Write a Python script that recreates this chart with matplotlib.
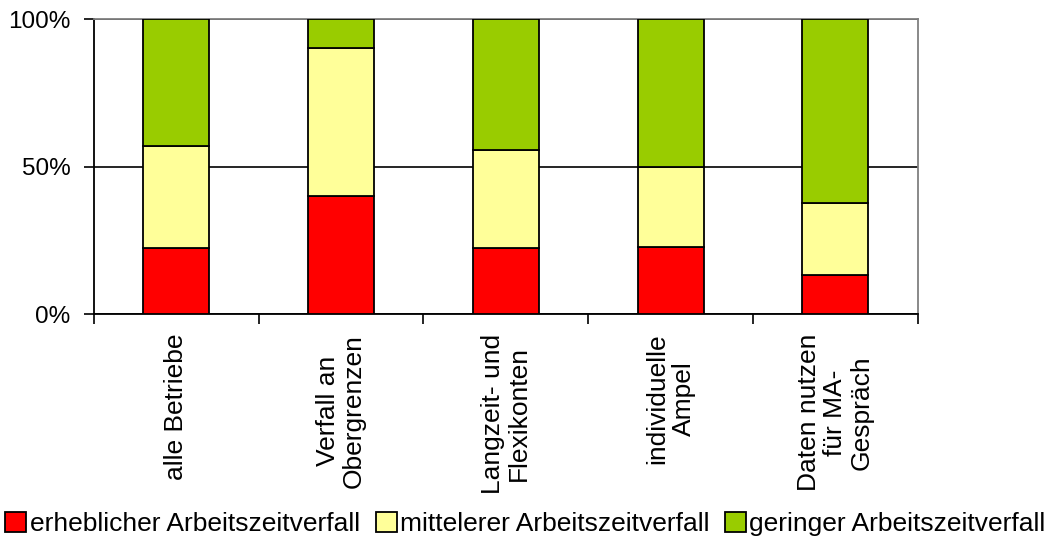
import matplotlib
matplotlib.use("Agg")
import matplotlib.pyplot as plt
import numpy as np

# Werte (Anteile in %)
kategorien = ["alle Betriebe", "Verfall an\nObergrenzen", "Langzeit- und\nFlexikonten",
              "individuelle\nAmpel", "Daten nutzen\nfür MA-\nGespräch"]
erheblich = [22.4, 40.1, 22.4, 22.9, 13.3]
mittel = [34.7, 50.2, 33.3, 27.1, 24.4]
gering = [42.9, 9.7, 44.3, 50.0, 62.3]
serien = ["erheblicher Arbeitszeitverfall", "mittelerer Arbeitszeitverfall",
          "geringer Arbeitszeitverfall"]
farben = ["#FF0000", "#FFFF99", "#99CC00"]

plt.rcParams['font.family'] = ['Liberation Sans', 'DejaVu Sans']

fig = plt.figure(figsize=(10.51, 5.49), dpi=100)
ax = fig.add_axes([94 / 1051, 1 - 314.3 / 549, (917.7 - 94) / 1051, (314.3 - 19.3) / 549])

x = np.arange(len(kategorien))
unten = np.zeros(len(kategorien))
for werte, name, farbe in zip([erheblich, mittel, gering], serien, farben):
    ax.bar(x, werte, width=0.4, bottom=unten, color=farbe, edgecolor="black",
           linewidth=1.3, label=name, zorder=3)
    unten += np.array(werte)

ax.set_xlim(-0.5, len(kategorien) - 0.5)
ax.set_ylim(0, 100)

# y-Achse
ax.set_yticks([0, 50, 100])
ax.set_yticklabels(["0%", "50%", "100%"], fontsize=17.5)
ax.tick_params(axis="y", direction="out", length=7, width=1.2, pad=10)
ax.set_axisbelow(True)
ax.yaxis.grid(True, color="black", linewidth=1.2)

# x-Achse: Striche zwischen Kategorien, Beschriftung in der Mitte
ax.set_xticks(np.arange(-0.5, len(kategorien)), labels=[])
ax.set_xticks(x, minor=True)
ax.set_xticklabels(kategorien, minor=True, rotation=90, fontsize=19,
                   ha="center", va="top", multialignment="center", linespacing=1.1)
ax.tick_params(axis="x", which="major", direction="out", length=7, width=1.2)
ax.tick_params(axis="x", which="minor", length=0, pad=14)

for s in ["left", "bottom"]:
    ax.spines[s].set_color("black")
    ax.spines[s].set_linewidth(1.3)
for s in ["top", "right"]:
    ax.spines[s].set_color("#808080")
    ax.spines[s].set_linewidth(1.3)

fig.legend(loc="center", bbox_to_anchor=(0.5, 1 - 524 / 549), ncol=3, frameon=False,
           fontsize=19, handlelength=0.8, handleheight=0.8, handletextpad=0.12,
           columnspacing=0.6, borderpad=0)

fig.savefig("out.png", dpi=100)
